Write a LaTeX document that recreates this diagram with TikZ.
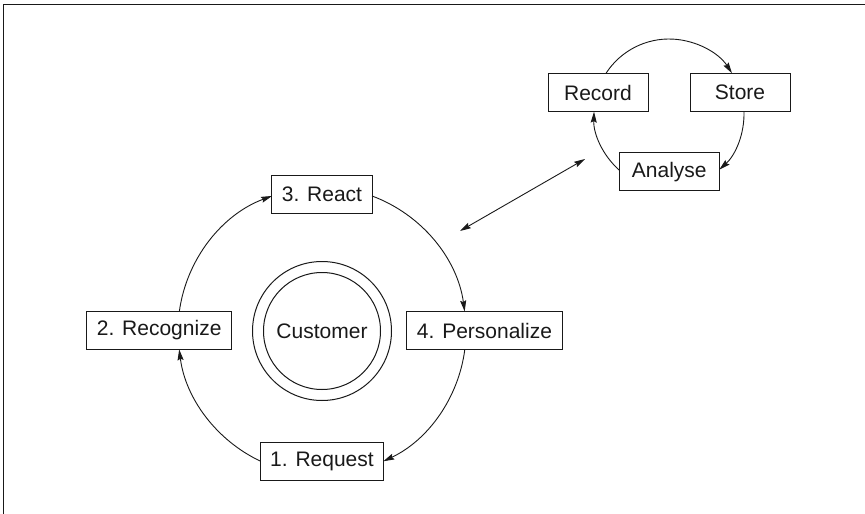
\documentclass[tikz,border=0pt]{standalone}
\usepackage{fontspec}
\setmainfont{Liberation Sans}
\usetikzlibrary{arrows.meta}
\begin{document}
\begin{tikzpicture}[x=1pt,y=1pt,
  txt/.style={font=\fontsize{21}{24}\selectfont, text=black!90},
  box/.style={txt,draw=black!90,line width=1pt,fill=white,minimum width=100pt,minimum height=38pt,inner xsep=10pt,inner ysep=0pt},
  ring/.style={circle,draw=black!90,line width=1pt,inner sep=0pt},
  conn/.style={draw=black!90,line width=0.9pt,-{Stealth[length=11pt,width=6pt,inset=1.5pt]}},
  dbl/.style={draw=black!90,line width=0.9pt,{Stealth[length=11pt,width=6pt,inset=1.5pt]}-{Stealth[length=11pt,width=6pt,inset=1.5pt]}}]
\useasboundingbox (0,0) rectangle (865,-514);
% frame (top and left only)
\draw[line width=1.5pt,black!90] (3.5,-514) -- (3.5,-4.5) -- (865,-4.5);

% main cycle
\node[ring,minimum size=139pt] (Cout) at (322,-331) {};
\node[ring,minimum size=117pt,txt] (C) at (322,-331) {Customer};
\node[box] (react) at (322,-194) {3. React};
\node[box] (pers) at (484.5,-330.5) {4. Personalize};
\node[box] (recog) at (159.2,-330.5) {2. Recognize};
\node[box] (req) at (322,-461.7) {1. Request};

\draw[conn] ([shift={(69.7:144)}]C.center) arc[start angle=69.7,end angle=7.8,radius=144];
\draw[conn] ([shift={(-7.3:144)}]C.center) arc[start angle=-7.3,end angle=-64.8,radius=144];
\draw[conn] ([shift={(-115.2:144)}]C.center) arc[start angle=-115.2,end angle=-172.7,radius=144];
\draw[conn] ([shift={(172.3:144)}]C.center) arc[start angle=172.3,end angle=110.3,radius=144];

% small cycle
\coordinate (S) at (669,-114);
\node[box] (record) at (598,-92.5) {Record};
\node[box] (store) at (740,-92.5) {Store};
\node[box] (analyse) at (669.3,-171.7) {Analyse};

\draw[conn] ([shift={(147.1:75)}]S) arc[start angle=147.1,end angle=32.9,radius=75];
\draw[conn] ([shift={(1.8:75)}]S) arc[start angle=1.8,end angle=-47.9,radius=75];
\draw[conn] ([shift={(-131.5:75)}]S) arc[start angle=-131.5,end angle=-181.8,radius=75];

% link
\coordinate (la) at (460,-231);
\coordinate (lb) at (585,-159);
\draw[dbl] (la) -- (lb);
\end{tikzpicture}
\end{document}
